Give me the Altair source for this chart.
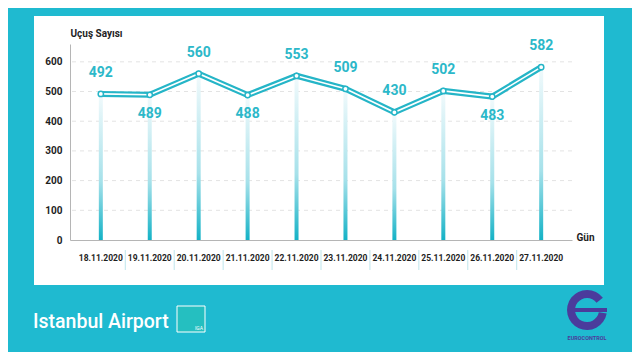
import altair as alt
import pandas as pd

dates = ["18.11.2020", "19.11.2020", "20.11.2020", "21.11.2020", "22.11.2020",
         "23.11.2020", "24.11.2020", "25.11.2020", "26.11.2020", "27.11.2020"]
flights = [492, 489, 560, 488, 553, 509, 430, 502, 483, 582]
label_pos = ["above", "below", "above", "below", "above",
             "above", "above", "above", "below", "above"]
y_ticks = [0, 100, 200, 300, 400, 500, 600]

TEAL = "#25b5c7"
BG = "#1fbad0"
DARK = "#1e1e1e"
FONT = "Roboto"

df = pd.DataFrame({"date": dates, "v": flights, "pos": label_pos})
grid_df = pd.DataFrame({"v": y_ticks[1:]})
sep_df = pd.DataFrame({"date": dates[1:]})
one = pd.DataFrame({"a": [0]})

xs = alt.Scale(domain=dates, paddingInner=0, paddingOuter=0.13)
ys = alt.Scale(domain=[0, 660], nice=False, zero=True)

xaxis = alt.Axis(title="Gün", labelAngle=0, ticks=False, domainColor="#b5b5b5",
                 labelFont=FONT, labelFontWeight="bold", labelFontSize=8.5, labelColor=DARK,
                 labelPadding=13, titleFont=FONT, titleFontWeight="bold", titleFontSize=10,
                 titleColor=DARK, titleAnchor="start", titleAlign="left", titleBaseline="middle",
                 titleX=506, titleY=-3, grid=False, zindex=1)
yaxis = alt.Axis(title="Uçuş Sayısı", values=y_ticks, ticks=False, domainColor="#b5b5b5",
                 labelFont=FONT, labelFontWeight="bold", labelFontSize=10, labelColor=DARK,
                 labelPadding=8, titleFont=FONT, titleFontWeight="bold", titleFontSize=10,
                 titleColor=DARK, titleAngle=0, titleAlign="left", titleBaseline="alphabetic",
                 titleX=0, titleY=-8, grid=False, zindex=1)

X = alt.X("date:N", scale=xs, axis=xaxis, sort=dates)
Y = alt.Y("v:Q", scale=ys, axis=yaxis)

card = alt.Chart(one).mark_rect(color="white").encode(
    x=alt.value(-36), x2=alt.value(534), y=alt.value(-28), y2=alt.value(241))

grid = alt.Chart(grid_df).mark_rule(color="#e3e3e3", strokeDash=[4, 4], strokeWidth=1).encode(y=Y)

seps = alt.Chart(sep_df).mark_rule(color="#bfe6ec", strokeWidth=1).encode(
    x=alt.X("date:N", scale=xs, axis=xaxis, sort=dates, bandPosition=0),
    y=alt.value(206), y2=alt.value(226))

grad = alt.Gradient(gradient="linear", x1=0, x2=0, y1=1, y2=0,
                    stops=[alt.GradientStop(color="#14b2c6", offset=0),
                           alt.GradientStop(color="#a6e1ea", offset=0.4),
                           alt.GradientStop(color="#f2fafc", offset=1)])
bars = alt.Chart(df).mark_bar(width=4, color=grad).encode(x=X, y=Y)

line_outer = alt.Chart(df).mark_line(color=TEAL, strokeWidth=6, strokeJoin="miter").encode(x=X, y=Y)
line_inner = alt.Chart(df).mark_line(color="white", strokeWidth=1.6).encode(x=X, y=Y)
pts = alt.Chart(df).mark_point(filled=True, fill="white", stroke=TEAL, strokeWidth=1.5,
                               size=28, opacity=1).encode(x=X, y=Y)

lab_above = alt.Chart(df).transform_filter(alt.datum.pos == "above").mark_text(
    font=FONT, fontWeight="bold", fontSize=14, color="#2cb8c9", dy=-14, baseline="bottom"
).encode(x=X, y=Y, text="v:Q")
lab_below = alt.Chart(df).transform_filter(alt.datum.pos == "below").mark_text(
    font=FONT, fontWeight="bold", fontSize=14, color="#2cb8c9", dy=12, baseline="top"
).encode(x=X, y=Y, text="v:Q")

brand = alt.Chart(one).mark_text(text="Istanbul Airport", font=FONT, fontSize=19.5,
                                 fontWeight=500, color="white", align="left",
                                 baseline="alphabetic").encode(
    x=alt.value(-37), y=alt.value(284))
iga_box = alt.Chart(one).mark_rect(fill="#2cc4b0", fillOpacity=0.5, stroke="white", strokeWidth=1).encode(
    x=alt.value(107), x2=alt.value(135), y=alt.value(262), y2=alt.value(288))
iga = alt.Chart(one).mark_text(text="IGA", font=FONT, fontSize=5, color="white",
                               align="right").encode(x=alt.value(133), y=alt.value(284))

euro_ring = alt.Chart(one).mark_arc(color="#4b3b9c", theta=1.75, theta2=7.2,
                                    radius=20, radius2=12).encode(
    x=alt.value(517), y=alt.value(266))
euro_bar = alt.Chart(one).mark_rect(color="#4b3b9c").encode(
    x=alt.value(502), x2=alt.value(537), y=alt.value(264), y2=alt.value(268))
euro_txt = alt.Chart(one).mark_text(text="EUROCONTROL", font=FONT, fontSize=5.5,
                                    fontWeight="bold", color="#4b3b9c").encode(
    x=alt.value(517), y=alt.value(294))

chart = alt.layer(
    card, grid, seps, bars, line_outer, line_inner, pts, lab_above, lab_below,
    brand, iga_box, iga, euro_ring, euro_bar, euro_txt
).properties(
    width=502, height=196, background=BG,
    autosize=alt.AutoSizeParams(type="none"),
    padding={"left": 62, "top": 36, "right": 60, "bottom": 112}
).configure_view(stroke=None)

chart.save("out.html", embed_options={"renderer": "svg", "actions": False})
